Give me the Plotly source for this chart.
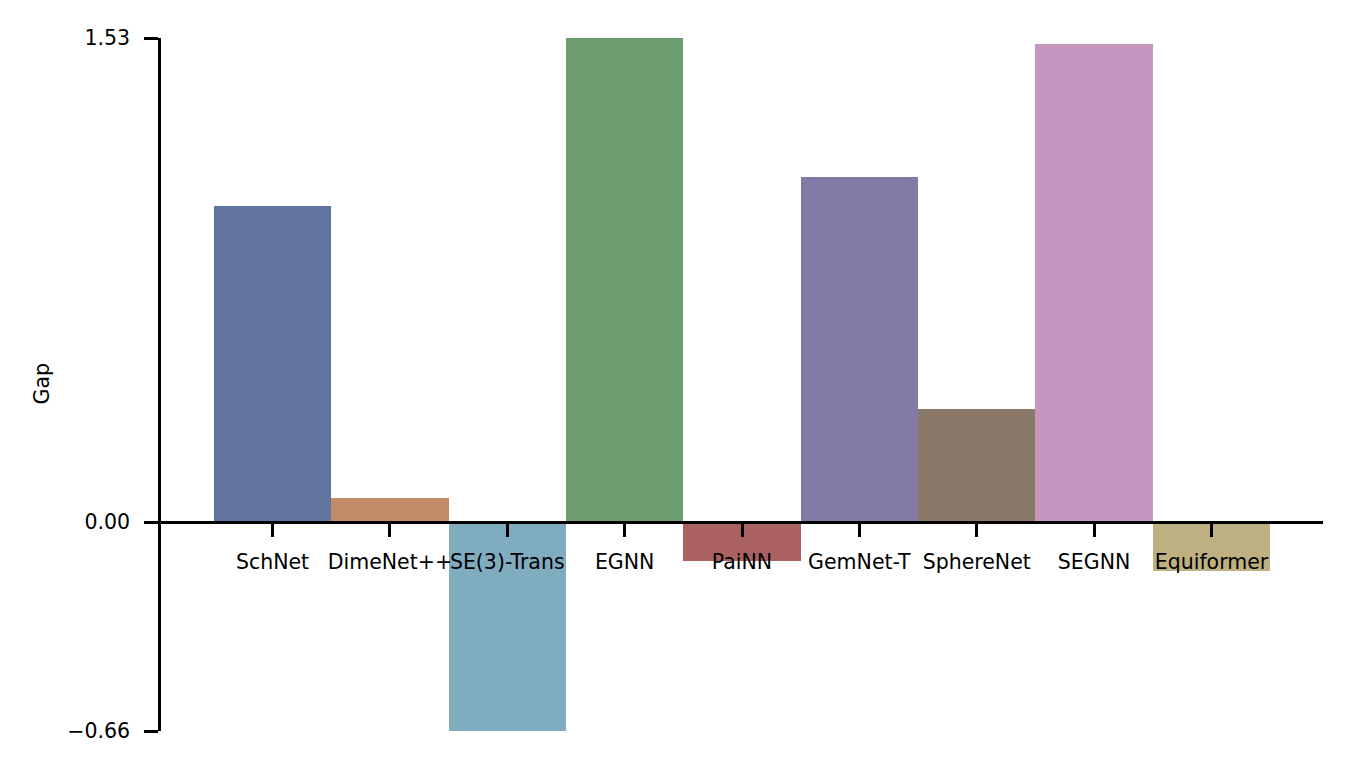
import plotly.graph_objects as go

models = ["SchNet", "DimeNet++", "SE(3)-Trans", "EGNN", "PaiNN",
          "GemNet-T", "SphereNet", "SEGNN", "Equiformer"]
gap = [1.00, 0.076, -0.66, 1.53, -0.124, 1.09, 0.358, 1.51, -0.155]
colors = ["#6174A0", "#C28A65", "#80ACC0", "#6C9D70", "#AA6160",
          "#837AA6", "#8A7968", "#C796BE", "#BFB082"]
y_ticks = [-0.66, 0.00, 1.53]
y_ticktext = ["\u22120.66", "0.00", "1.53"]

y_min, y_max = y_ticks[0], y_ticks[-1]

fig = go.Figure(go.Bar(
    x=models, y=gap, marker=dict(color=colors, line=dict(width=0)),
    width=1.0, showlegend=False,
))

font = dict(family="DejaVu Sans", size=20.5, color="black")

fig.update_layout(
    width=1336, height=757,
    margin=dict(l=153, r=21, t=30, b=34),
    paper_bgcolor="white", plot_bgcolor="white",
    font=font, bargap=0,
    xaxis=dict(
        type="category", range=[-0.95, len(models) - 0.05],
        anchor="free", position=(0 - y_min) / (y_max - y_min),
        showline=True, linecolor="black", linewidth=2.5,
        ticks="outside", ticklen=13, tickwidth=2.5, tickcolor="black",
        showgrid=False, zeroline=False, ticklabelstandoff=7,
        tickangle=0, tickfont=font,
    ),
    yaxis=dict(
        range=[y_min, y_max], tickvals=y_ticks, ticktext=y_ticktext,
        showline=True, linecolor="black", linewidth=2.5,
        ticks="outside", ticklen=14, tickwidth=2.5, tickcolor="black",
        showgrid=False, zeroline=False, ticklabelstandoff=10,
        tickfont=font,
    ),
    annotations=[dict(
        text="Gap", xref="paper", yref="paper", x=0, y=0.5,
        xshift=-120, textangle=-90, showarrow=False,
        xanchor="center", yanchor="middle", font=font,
    )],
)

fig.write_html("out.html")
